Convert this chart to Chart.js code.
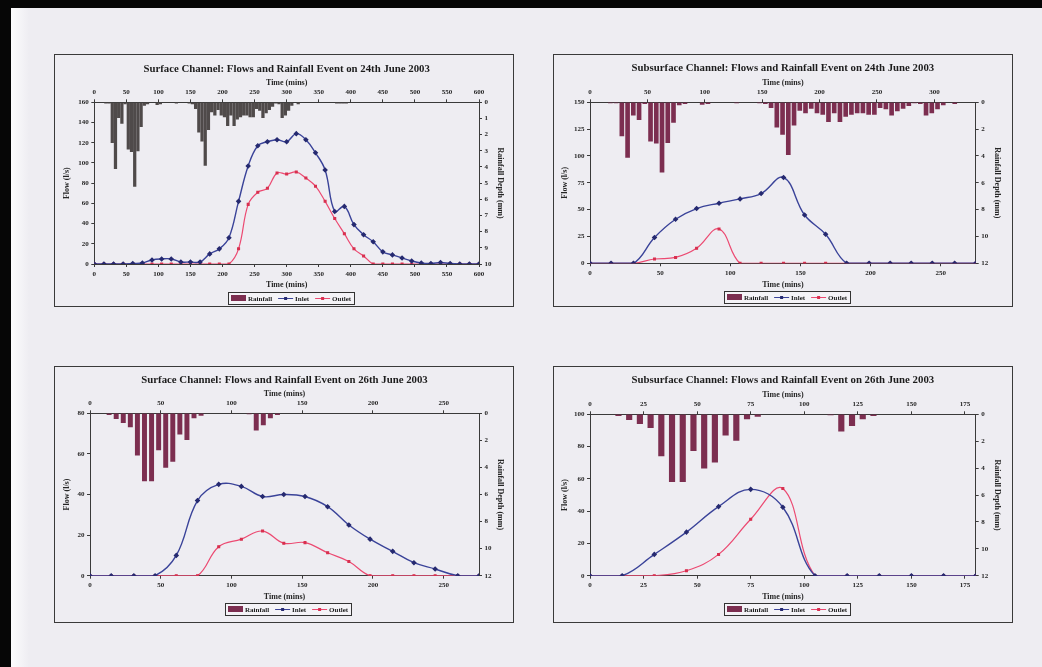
<!DOCTYPE html>
<html><head><meta charset="utf-8">
<script src="https://cdn.jsdelivr.net/npm/chart.js@4.4.1/dist/chart.umd.min.js"></script>
<style>
html,body{margin:0;padding:0;}
body{width:1042px;height:667px;overflow:hidden;background:#eeedf2;position:relative;}
.bTop{position:absolute;left:0;top:0;width:1042px;height:8px;background:#060606;}
.bLeft{position:absolute;left:0;top:0;width:11px;height:667px;background:#060606;}
.marg{position:absolute;left:11px;top:8px;width:18px;height:659px;background:linear-gradient(to right,#fcfcfd,#eeedf2);}
.frame{position:absolute;border:1px solid #3a3a3a;box-sizing:border-box;pointer-events:none;}
canvas{position:absolute;}
</style></head><body>
<div class="bTop"></div><div class="bLeft"></div><div class="marg"></div>
<canvas id="c1"></canvas><canvas id="c2"></canvas><canvas id="c3"></canvas><canvas id="c4"></canvas>
<script>
// ================= DATA =================
// Rainfall event of 24th June 2003: 5-minute depths (mm) on the top time axis
const rain24Times = [16,21,26,31,36,41,46,51,56,61,66,71,76,81,96,101,126,146,151,156,161,166,171,176,181,186,191,196,201,206,211,216,221,226,231,236,241,246,251,256,261,266,271,276,281,286,291,296,301,306,316,376,381,386,391];
const rain24Depth = [0.05,0.05,2.5,4.1,0.95,1.3,0.1,2.9,3.05,5.2,3.0,1.5,0.2,0.1,0.15,0.1,0.05,0.05,0.1,0.4,1.85,2.4,3.9,1.7,0.6,0.8,0.45,0.8,0.9,1.45,0.8,1.45,1.05,0.9,0.8,0.8,0.9,0.9,0.4,0.5,0.95,0.65,0.45,0.25,0.05,0.1,0.95,0.8,0.5,0.2,0.1,0.05,0.05,0.05,0.05];

// Rainfall event of 26th June 2003
const rain26Times = [12,17,22,27,32,37,42,47,52,57,62,67,72,77,111,116,121,126,131];
const rain26Depth = [0.1,0.4,0.7,1.0,3.1,5.0,5.0,2.7,4.0,3.55,1.55,1.95,0.35,0.15,0.05,1.25,0.85,0.35,0.1];

// Surface channel, 24th June (l/s)
const surf24Times  = [0,15,30,45,60,75,90,105,120,135,150,165,180,195,210,225,240,255,270,285,300,315,330,345,360,375,390,405,420,435,450,465,480,495,510,525,540,555,570,585,600];
const surf24Inlet  = [0,0,0,0,0.5,1,4,5,5,2,2,2,10,15,26,62,97,117,121,123,121,129,123,110,93,52,57,39,29,22,12,9,6,3,1,0.5,1.5,0.5,0,0,0];
const surf24Outlet = [0,0,0,0,0,0,0,0,0,0,0,0,0,0,0,15,59,71,75,90,89,91,85,77,62,45,30,15,8,0,0,0,0,0,0,0,0,0,0,0,0];

// Subsurface channel, 24th June (l/s)
const sub24Times  = [0,15,31,46,61,76,92,107,122,138,153,168,183,199,214,229,244,260,275];
const sub24Inlet  = [0,0,0,24,41,51,56,60,65,80,45,27,0,0,0,0,0,0,0];
const sub24Outlet = [0,0,0,4,5.5,14,32,0,0,0,0,0,0,0,0,0,0,0,0];

// Surface channel, 26th June (l/s)
const surf26Times  = [0,15,31,46,61,76,91,107,122,137,152,168,183,198,214,229,244,260,275];
const surf26Inlet  = [0,0,0,0,10,37,45,44,39,40,39,34,25,18,12,6.4,3.3,0,0];
const surf26Outlet = [0,0,0,0,0,0,14.3,18,22,16,16.3,11.3,7,0,0,0,0,0,0];

// Subsurface channel, 26th June (l/s)
const sub26Times  = [0,15,30,45,60,75,90,105,120,135,150,165,180];
const sub26Inlet  = [0,0,13.2,27,42.8,53.5,42.4,0,0,0,0,0,0];
const sub26Outlet = [0,0,0,3.1,13.2,35,54,0,0,0,0,0,0];

// ================= STYLE =================
const SERIF = '"Liberation Serif", "Times New Roman", serif';
const TXT = '#262626', AXIS = '#3a3a3a';
const BLUE = '#3a4399', BLUE_PT = '#262a70', RED = '#ec4a72', RED_PT = '#d8304f';
const MAROON = '#7c2e50', GREYBAR = '#4f4a4a';

const pts = (xs, ys) => xs.map((x, i) => ({x: x, y: ys[i]}));

const decor = {
  id: 'decor',
  afterDraw(chart, args, o) {
    const ctx = chart.ctx, a = chart.chartArea;
    const cx = (a.left + a.right) / 2;
    ctx.save();
    ctx.fillStyle = '#1c1c1c';
    ctx.font = 'bold 10.8px ' + SERIF;
    ctx.textAlign = 'center'; ctx.textBaseline = 'middle';
    ctx.fillText(o.title, cx, o.titleY);
    // boxed legend
    ctx.font = 'bold 7px ' + SERIF;
    ctx.textAlign = 'left';
    const ds = chart.data.datasets;
    const items = [ds[2], ds[0], ds[1]];
    const sw = 15, gT = 2, gI = 6, pX = 3;
    let total = pX * 2;
    items.forEach((d, i) => { total += sw + gT + ctx.measureText(d.label).width + (i < items.length - 1 ? gI : 0); });
    let x = Math.round(cx + o.legendDX - total / 2);
    const y = Math.round(a.bottom + o.legendDY);
    ctx.fillStyle = '#f4f3f7';
    ctx.fillRect(x, y - 6, Math.round(total), 12);
    ctx.strokeStyle = '#333'; ctx.lineWidth = 1;
    ctx.strokeRect(x + 0.5, y - 6 + 0.5, Math.round(total), 12);
    x += pX;
    items.forEach((d) => {
      if (d.type === 'bar') {
        ctx.fillStyle = MAROON;
        ctx.fillRect(x, y - 3, sw, 6);
      } else {
        ctx.strokeStyle = d.borderColor; ctx.lineWidth = 1;
        ctx.beginPath(); ctx.moveTo(x, y + 0.5); ctx.lineTo(x + sw, y + 0.5); ctx.stroke();
        ctx.fillStyle = d.pointBackgroundColor;
        ctx.fillRect(x + sw / 2 - 1.5, y - 1, 3, 3);
      }
      x += sw + gT;
      ctx.fillStyle = '#1c1c1c';
      ctx.fillText(d.label, x, y + 1);
      x += ctx.measureText(d.label).width + gI;
    });
    ctx.restore();
  }
};

function build(id, g, s) {
  const wy = g.plot.l - (g.yTitleX - 4.8);
  const wy2 = 26, hx = 26, hx2 = 24;
  const pad = {
    left: g.plot.l - g.frame.x - wy,
    right: g.frame.x + g.frame.w - g.plot.r - wy2,
    top: g.plot.t - g.frame.y - hx2,
    bottom: g.frame.y + g.frame.h - g.plot.b - hx
  };
  const cv = document.getElementById(id);
  cv.width = g.frame.w; cv.height = g.frame.h;
  cv.style.left = g.frame.x + 'px'; cv.style.top = g.frame.y + 'px';
  const fr = document.createElement('div');
  fr.className = 'frame';
  fr.style.cssText = `left:${g.frame.x}px;top:${g.frame.y}px;width:${g.frame.w}px;height:${g.frame.h}px;`;
  document.body.appendChild(fr);

  const fixH = v => sc => { sc.height = v; };
  const fixW = v => sc => { sc.width = v; };
  const tickFont = {family: SERIF, size: 7, weight: 'bold'};
  const ttlFont = {family: SERIF, size: 8, weight: 'bold'};
  const grid = {drawOnChartArea: false, drawTicks: true, tickLength: 3, color: AXIS, lineWidth: 1, offset: false};
  const border = {display: true, color: AXIS, width: 1};
  const ticks = (step) => ({font: tickFont, color: TXT, padding: 2.5, maxRotation: 0, minRotation: 0, autoSkip: false, includeBounds: false, stepSize: step});
  const title = (t) => ({display: true, text: t, font: ttlFont, color: TXT, padding: 0});

  new Chart(cv, {
    type: 'line',
    data: {datasets: [
      {type: 'line', label: 'Inlet', data: pts(s.t, s.inlet), xAxisID: 'x', yAxisID: 'y',
       borderColor: BLUE, backgroundColor: BLUE_PT, pointBackgroundColor: BLUE_PT, pointBorderColor: BLUE_PT,
       borderWidth: 1.4, pointStyle: 'rectRot', pointRadius: 1.8, tension: 0.4, order: 1},
      {type: 'line', label: 'Outlet', data: pts(s.t, s.outlet), xAxisID: 'x', yAxisID: 'y',
       borderColor: RED, backgroundColor: RED_PT, pointBackgroundColor: RED_PT, pointBorderColor: RED_PT,
       borderWidth: 1.2, pointStyle: 'rect', pointRadius: 1.3, tension: 0.4, order: 2},
      {type: 'bar', label: 'Rainfall', data: pts(s.rt, s.rd), xAxisID: 'x2', yAxisID: 'y2',
       backgroundColor: s.barColor, borderWidth: 0, barThickness: s.barW, order: 3}
    ]},
    options: {
      responsive: false, animation: false, events: [],
      layout: {padding: pad},
      plugins: {legend: {display: false}, tooltip: {enabled: false},
        decor: {title: s.title, titleY: g.titleY - g.frame.y, legendDY: 33.5, legendDX: 4}},
      scales: {
        x: {type: 'linear', position: 'bottom', min: 0, max: s.xMax, offset: false, grid, border,
            ticks: ticks(s.xStep), title: title('Time (mins)'), afterFit: fixH(hx)},
        x2: {type: 'linear', position: 'top', min: 0, max: s.x2Max, offset: false, grid, border,
            ticks: ticks(s.x2Step), title: title('Time (mins)'), afterFit: fixH(hx2)},
        y: {type: 'linear', position: 'left', min: 0, max: s.yMax, grid, border,
            ticks: ticks(s.yStep), title: title('Flow (l/s)'), afterFit: fixW(wy)},
        y2: {type: 'linear', position: 'right', reverse: true, min: 0, max: s.y2Max, grid, border,
            ticks: ticks(s.y2Step), title: title('Rainfall Depth (mm)'), afterFit: fixW(wy2)}
      }
    },
    plugins: [decor]
  });
}

build('c1',
  {frame: {x: 54, y: 54, w: 460, h: 253}, plot: {l: 94.3, t: 102.3, r: 479, b: 264}, yTitleX: 66.7, titleY: 69},
  {title: 'Surface Channel: Flows and Rainfall Event on 24th June 2003',
   t: surf24Times, inlet: surf24Inlet, outlet: surf24Outlet, rt: rain24Times, rd: rain24Depth,
   xMax: 600, xStep: 50, x2Max: 600, x2Step: 50, yMax: 160, yStep: 20, y2Max: 10, y2Step: 1,
   barColor: GREYBAR, barW: 2.6});

build('c2',
  {frame: {x: 553, y: 54, w: 460, h: 253}, plot: {l: 590, t: 102.3, r: 975.7, b: 263.3}, yTitleX: 565, titleY: 68.5},
  {title: 'Subsurface Channel: Flows and Rainfall Event on 24th June 2003',
   t: sub24Times, inlet: sub24Inlet, outlet: sub24Outlet, rt: rain24Times, rd: rain24Depth,
   xMax: 275, xStep: 50, x2Max: 336, x2Step: 50, yMax: 150, yStep: 25, y2Max: 12, y2Step: 2,
   barColor: MAROON, barW: 4});

build('c3',
  {frame: {x: 54, y: 366, w: 460, h: 257}, plot: {l: 90, t: 413.3, r: 479, b: 575.7}, yTitleX: 66.7, titleY: 380},
  {title: 'Surface Channel: Flows and Rainfall Event on 26th June 2003',
   t: surf26Times, inlet: surf26Inlet, outlet: surf26Outlet, rt: rain26Times, rd: rain26Depth,
   xMax: 275, xStep: 50, x2Max: 275, x2Step: 50, yMax: 80, yStep: 20, y2Max: 12, y2Step: 2,
   barColor: MAROON, barW: 4.3});

build('c4',
  {frame: {x: 553, y: 366, w: 460, h: 257}, plot: {l: 590, t: 414.3, r: 975.7, b: 575.7}, yTitleX: 565, titleY: 380},
  {title: 'Subsurface Channel: Flows and Rainfall Event on 26th June 2003',
   t: sub26Times, inlet: sub26Inlet, outlet: sub26Outlet, rt: rain26Times, rd: rain26Depth,
   xMax: 180, xStep: 25, x2Max: 180, x2Step: 25, yMax: 100, yStep: 20, y2Max: 12, y2Step: 2,
   barColor: MAROON, barW: 5.5});
</script>
</body></html>
